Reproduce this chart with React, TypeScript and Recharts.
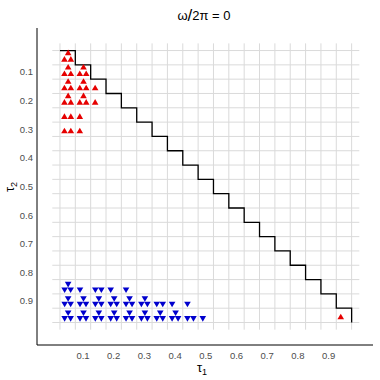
import React from 'react';
import { ComposedChart, XAxis, YAxis, Line, Scatter, ReferenceLine } from 'recharts';

// cell borders of the (tau1, tau2) grid
const gridBreaks = [0.025, 0.075, 0.125, 0.175, 0.225, 0.275, 0.325, 0.375, 0.425, 0.475,
  0.525, 0.575, 0.625, 0.675, 0.725, 0.775, 0.825, 0.875, 0.925, 0.975];

// stability boundary (staircase)
const boundaryT1 = [0.025, 0.075, 0.125, 0.175, 0.225, 0.275, 0.325, 0.375, 0.425, 0.475,
  0.525, 0.575, 0.625, 0.675, 0.725, 0.775, 0.825, 0.875, 0.925, 0.975];
const boundaryT2 = [0.025, 0.075, 0.125, 0.175, 0.225, 0.275, 0.325, 0.375, 0.425, 0.475,
  0.525, 0.575, 0.625, 0.675, 0.725, 0.775, 0.825, 0.875, 0.925, 0.975];

const tickVals = [0.1, 0.2, 0.3, 0.4, 0.5, 0.6, 0.7, 0.8, 0.9];

// red (up) markers, three slots per cell: A top, B lower-left, C lower-right
const upA = [[0.05, 0.05], [0.05, 0.1], [0.1, 0.1], [0.05, 0.15], [0.1, 0.15], [0.05, 0.2], [0.1, 0.2]];
const upB = [[0.05, 0.05], [0.05, 0.1], [0.1, 0.1], [0.05, 0.15], [0.1, 0.15], [0.15, 0.15],
  [0.05, 0.2], [0.1, 0.2], [0.15, 0.2], [0.05, 0.25], [0.1, 0.25], [0.05, 0.3], [0.1, 0.3], [0.95, 0.95]];
const upC = [[0.05, 0.05], [0.05, 0.1], [0.1, 0.1], [0.05, 0.15], [0.1, 0.15], [0.05, 0.2], [0.1, 0.2],
  [0.05, 0.25], [0.05, 0.3]];

// blue (down) markers
const downA = [[0.05, 0.85],
  [0.05, 0.9], [0.1, 0.9], [0.15, 0.9], [0.2, 0.9], [0.25, 0.9], [0.3, 0.9],
  [0.05, 0.95], [0.1, 0.95], [0.15, 0.95], [0.2, 0.95], [0.25, 0.95], [0.3, 0.95], [0.35, 0.95], [0.4, 0.95]];
const downB = [[0.05, 0.85], [0.1, 0.85], [0.15, 0.85], [0.2, 0.85], [0.25, 0.85],
  [0.05, 0.9], [0.1, 0.9], [0.15, 0.9], [0.2, 0.9], [0.25, 0.9], [0.3, 0.9], [0.35, 0.9], [0.4, 0.9], [0.45, 0.9],
  [0.05, 0.95], [0.1, 0.95], [0.15, 0.95], [0.2, 0.95], [0.25, 0.95], [0.3, 0.95], [0.35, 0.95], [0.4, 0.95],
  [0.45, 0.95], [0.5, 0.95]];
const downC = [[0.05, 0.85], [0.15, 0.85],
  [0.05, 0.9], [0.1, 0.9], [0.15, 0.9], [0.2, 0.9], [0.25, 0.9], [0.3, 0.9], [0.35, 0.9],
  [0.05, 0.95], [0.1, 0.95], [0.15, 0.95], [0.2, 0.95], [0.25, 0.95], [0.3, 0.95], [0.35, 0.95], [0.4, 0.95],
  [0.45, 0.95]];

const RED = '#e60000';
const BLUE = '#0000cd';
const FONT = '"Liberation Sans", Arial, sans-serif';

const toPts = (arr: number[][]) => arr.map(([t1, t2]) => ({ t1, t2 }));
const boundary = boundaryT1.map((t1, i) => ({ t1, t2: boundaryT2[i] }));

function triShape(up: boolean, color: string, dx: number, dy: number) {
  return (props: any) => {
    const x = props.cx + dx;
    const y = props.cy + dy;
    const w = 3.3;
    const h = 2.8;
    const d = up
      ? `M${x},${y - h}L${x + w},${y + h}L${x - w},${y + h}Z`
      : `M${x},${y + h}L${x + w},${y - h}L${x - w},${y - h}Z`;
    return <path d={d} fill={color} />;
  };
}

const tickStyle = { fill: '#4d4d4d', fontSize: 9.5, fontFamily: FONT };

export default function App() {
  return (
    <div style={{ position: 'absolute', left: 0, top: 0, width: 380, height: 380, background: '#fff' }}>
      <ComposedChart width={380} height={380} margin={{ top: 28, right: 7, bottom: 0, left: 0 }}>
        <XAxis
          type="number"
          dataKey="t1"
          domain={[-0.0498, 1.0446]}
          allowDataOverflow
          ticks={tickVals}
          tickLine={false}
          tickSize={3}
          tickMargin={4}
          height={35}
          axisLine={{ stroke: '#000', strokeWidth: 1 }}
          tick={tickStyle}
        />
        <YAxis
          type="number"
          dataKey="t2"
          reversed
          domain={[-0.0537, 1.0535]}
          allowDataOverflow
          ticks={tickVals}
          tickLine={false}
          tickSize={2}
          tickMargin={2}
          width={37}
          axisLine={{ stroke: '#000', strokeWidth: 1 }}
          tick={tickStyle}
        />
        {gridBreaks.map((v) => (
          <ReferenceLine key={'v' + v} segment={[{ x: v, y: 0 }, { x: v, y: 1 }]} stroke="#dadada" strokeWidth={1} />
        ))}
        {gridBreaks.map((v) => (
          <ReferenceLine key={'h' + v} segment={[{ x: 0, y: v }, { x: 1, y: v }]} stroke="#dadada" strokeWidth={1} />
        ))}
        <Line
          data={boundary}
          dataKey="t2"
          type="stepAfter"
          stroke="#000"
          strokeWidth={1.3}
          dot={false}
          activeDot={false}
          isAnimationActive={false}
        />
        <Scatter data={toPts(upA)} shape={triShape(true, RED, 0.5, -5.3)} isAnimationActive={false} />
        <Scatter data={toPts(upB)} shape={triShape(true, RED, -3.2, 1.2)} isAnimationActive={false} />
        <Scatter data={toPts(upC)} shape={triShape(true, RED, 3.2, 1.2)} isAnimationActive={false} />
        <Scatter data={toPts(downA)} shape={triShape(false, BLUE, 0.5, -2.1)} isAnimationActive={false} />
        <Scatter data={toPts(downB)} shape={triShape(false, BLUE, -3, 3.5)} isAnimationActive={false} />
        <Scatter data={toPts(downC)} shape={triShape(false, BLUE, 3, 3.5)} isAnimationActive={false} />
      </ComposedChart>
      <svg width={380} height={380} style={{ position: 'absolute', left: 0, top: 0, pointerEvents: 'none' }}>
        <text x={204} y={20} textAnchor="middle" fontFamily={FONT} fontSize={13} fill="#000">
          <tspan>ω</tspan>
          <tspan fontSize={17} dy={1}>/</tspan>
          <tspan dy={-1}>2π = 0</tspan>
        </text>
        <text x={202} y={372} textAnchor="middle" fontFamily={FONT} fontSize={13} fill="#000">
          <tspan>τ</tspan>
          <tspan fontSize={9} dy={3}>1</tspan>
        </text>
        <text transform="translate(14,187) rotate(-90)" textAnchor="middle" fontFamily={FONT} fontSize={13} fill="#000">
          <tspan>τ</tspan>
          <tspan fontSize={9} dy={3}>2</tspan>
        </text>
      </svg>
    </div>
  );
}
